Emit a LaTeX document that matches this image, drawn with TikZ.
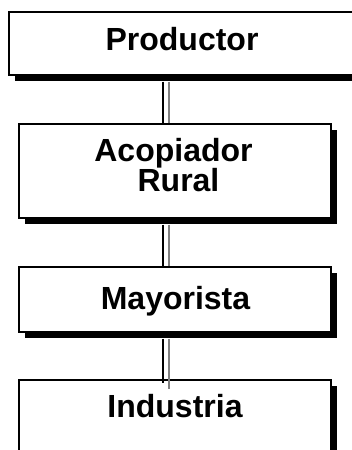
\documentclass[tikz,border=0pt]{standalone}
\usepackage{fontspec}
\setmainfont{Liberation Sans}
\usetikzlibrary{shadows,calc}
\begin{document}
\begin{tikzpicture}[x=1pt,y=-1pt,
  box/.style={draw=black, line width=1.3pt, fill=white, inner sep=0pt,
    drop shadow={shadow xshift=6pt, shadow yshift=-6pt, opacity=1, fill=black}},
  lbl/.style={font=\fontsize{32}{30}\selectfont\bfseries, inner sep=0pt, align=center},
  darkline/.style={line width=1.3pt, black},
  greyline/.style={line width=2pt, color=gray}]
\useasboundingbox (0,0) rectangle (352,450);
\clip (0,0) rectangle (352,450);
\node[box, minimum width=351pt, minimum height=63pt] (b1) at (184.5,43.5) {};
\node[box, minimum width=312pt, minimum height=94pt] (b2) at (175,171) {};
\node[box, minimum width=312pt, minimum height=65pt] (b3) at (175,299.5) {};
\node[box, minimum width=312pt, minimum height=120pt] (b4) at (175,440) {};
\node[lbl, anchor=base] (t1) at (182,50) {Productor};
\node[lbl] (t2) at (178.5,165.3) {Acopiador\kern10pt\\Rural};
\node[lbl, anchor=base] (t3) at (175.5,309) {Mayorista};
\node[lbl, anchor=base] (t4) at (175,417) {Industria};
% connectors
\draw[darkline] ($(b1.south -| b2.north)+(-12,6)$) -- ($(b2.north)+(-12,0)$);
\draw[greyline] ($(b1.south -| b2.north)+(-6.5,6)$) -- ($(b2.north)+(-6.5,0)$);
\draw[darkline] ($(b2.south)+(-12,6)$) -- ($(b3.north)+(-12,0)$);
\draw[greyline] ($(b2.south)+(-6.5,6)$) -- ($(b3.north)+(-6.5,0)$);
\draw[darkline] ($(b3.south)+(-12,6)$) -- ($(b4.north)+(-12,4)$);
\draw[greyline] ($(b3.south)+(-6.5,6)$) -- ($(b4.north)+(-6.5,10)$);
\end{tikzpicture}
\end{document}
